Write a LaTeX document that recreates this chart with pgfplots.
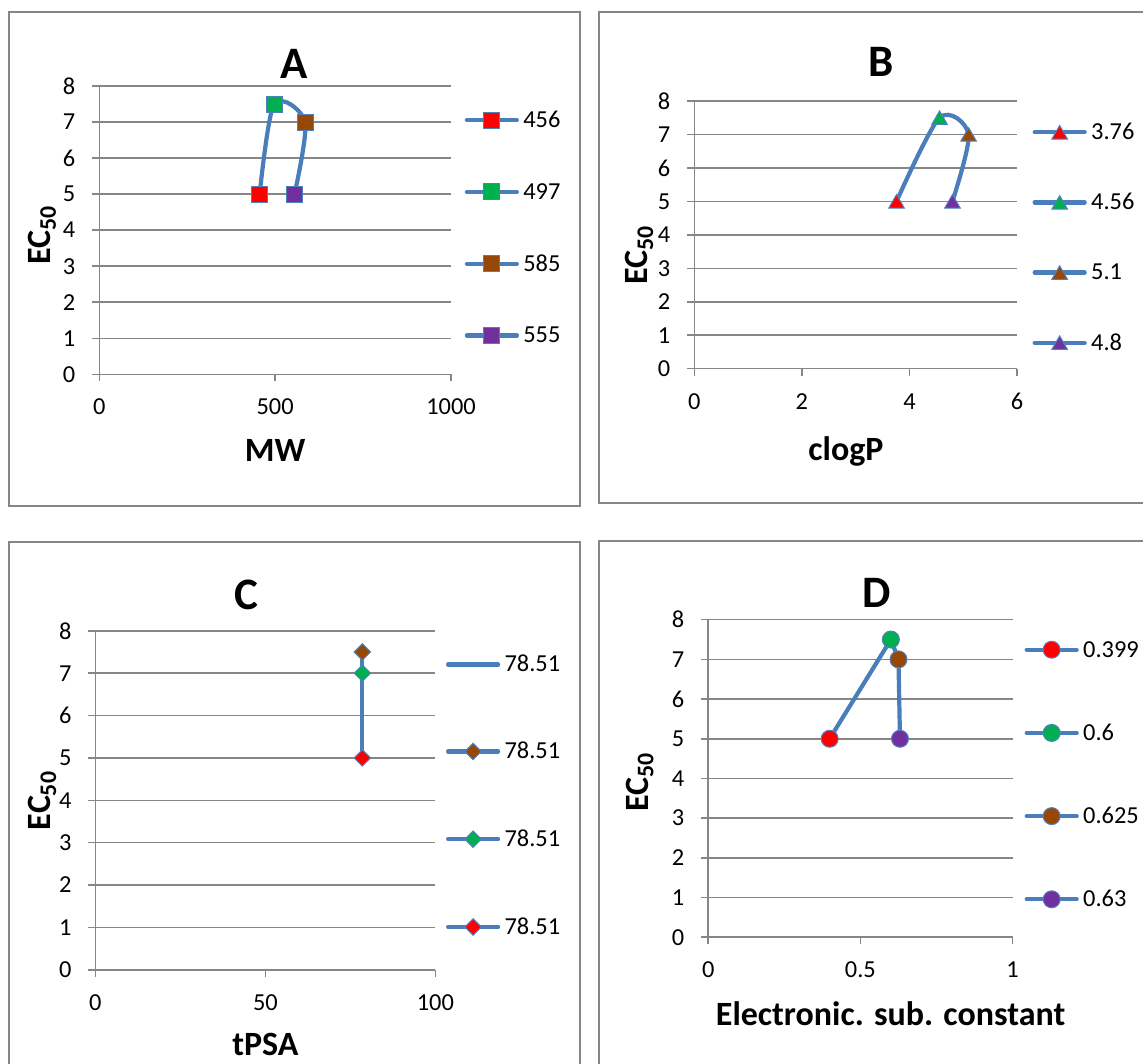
\documentclass[border=0pt]{standalone}
\usepackage{fontspec}
\setmainfont{Carlito}
\usepackage{pgfplots}
\pgfplotsset{compat=1.18}
\definecolor{exblue}{RGB}{74,126,187}
\definecolor{mkborder}{RGB}{79,129,189}
\definecolor{gridgray}{RGB}{134,134,134}
\definecolor{mred}{RGB}{255,0,0}
\definecolor{mgreen}{RGB}{0,176,80}
\definecolor{mbrown}{RGB}{151,71,6}
\definecolor{mpurple}{RGB}{112,48,160}

\pgfplotsset{
  panel/.style={
    scale only axis,
    anchor=south west,
    ymin=0, ymax=8, ytick={0,1,...,8},
    axis x line*=bottom, axis y line*=left,
    axis line style={gridgray, line width=0.75pt, -},
    ymajorgrids, grid style={gridgray, line width=0.75pt},
    tick align=outside, major tick length=3.5pt,
    tick style={gridgray, line width=0.75pt},
    ticklabel style={font=\fontsize{12.2}{14}\selectfont},
    /pgf/number format/assume math mode=true,
    /pgf/number format/1000 sep={},
    scaled ticks=false,
    yticklabel style={anchor=east, inner sep=0pt, xshift=-8.3pt},
    xticklabel style={anchor=center, inner sep=0pt, yshift=-12.8pt},
    title style={font=\fontsize{22.5}{27}\selectfont\bfseries, anchor=center, inner sep=0pt},
    label style={font=\fontsize{17}{20}\selectfont\bfseries, inner sep=0pt},
    ylabel={EC\textsubscript{50}},
    legend style={draw=none, fill=none, inner sep=0pt, anchor=west,
      font=\fontsize{12.2}{14}\selectfont, cells={anchor=west},
      nodes={inner sep=0pt, text height=7.3pt, text depth=0pt}, column sep=2.2pt},
    legend image code/.code={\draw[mark repeat=2, mark phase=2] plot coordinates {(0pt,0pt) (12.5pt,0pt) (25pt,0pt)};},
  },
  curve/.style={exblue, line width=2.1pt, line cap=round, line join=round, no marks, forget plot},
  mk/.style={only marks, forget plot, mark options={draw=mkborder, line width=0.5pt, fill=#1, solid}},
  lg/.style={exblue, line width=2.1pt, line cap=round, mark options={draw=mkborder, line width=0.5pt, fill=#1, solid}},
  sq/.style={mark=square*, mark size=4pt},
  tri/.style={mark=triangle*, mark size=4.5pt, every mark/.append style={yshift=-1.1pt}},
  dia/.style={mark=square*, mark size=2.9pt, every mark/.append style={rotate=45}},
  cir/.style={mark=*, mark size=4.25pt},
}

\begin{document}
\begin{tikzpicture}
\useasboundingbox (0pt,0pt) rectangle (571.5pt,531.5pt);
% panel frames
\draw[gridgray, line width=0.75pt] (4.5pt,278.5pt) rectangle (290pt,525.5pt);
\draw[gridgray, line width=0.75pt] (299.5pt,280pt) rectangle (580pt,525.5pt);
\draw[gridgray, line width=0.75pt] (4.5pt,-5pt) rectangle (290pt,260.5pt);
\draw[gridgray, line width=0.75pt] (299.5pt,-5pt) rectangle (580pt,261pt);

% ---------------- A ----------------
\begin{axis}[panel, at={(49.65pt,344.35pt)}, width=175.85pt, height=144.15pt,
  xmin=0, xmax=1000, xtick={0,500,1000},
  title={A}, title style={at={(axis description cs:0.555,1.036)}},
  xlabel={MW}, xlabel style={at={(axis description cs:0.5,-0.2626)}, anchor=center},
  ylabel style={at={(axis description cs:-0.162,0.483)}, anchor=center},
  legend style={at={(axis description cs:1.038,0.508)}, row sep=27.87pt},
]
\addplot[curve, smooth] coordinates {(456,5) (497,7.5) (585,7) (555,5)};
\addplot[mk=mred, sq] coordinates {(456,5)};
\addplot[mk=mgreen, sq] coordinates {(497,7.5)};
\addplot[mk=mbrown, sq] coordinates {(585,7)};
\addplot[mk=mpurple, sq] coordinates {(555,5)};
\addlegendimage{lg=mred, sq}\addlegendentry{456}
\addlegendimage{lg=mgreen, sq}\addlegendentry{497}
\addlegendimage{lg=mbrown, sq}\addlegendentry{585}
\addlegendimage{lg=mpurple, sq}\addlegendentry{555}
\end{axis}

% ---------------- B ----------------
\begin{axis}[panel, at={(347.15pt,347.15pt)}, width=161.35pt, height=133.85pt,
  xmin=0, xmax=6, xtick={0,2,4,6},
  title={B}, title style={at={(axis description cs:0.58,1.100)}},
  xlabel={clogP}, xlabel style={at={(axis description cs:0.47,-0.31)}, anchor=center},
  ylabel style={at={(axis description cs:-0.17,0.425)}, anchor=center},
  legend style={at={(axis description cs:1.047,0.490)}, row sep=27.77pt},
]
\addplot[curve, smooth] coordinates {(3.76,5) (4.56,7.5) (5.1,7) (4.8,5)};
\addplot[mk=mred, tri] coordinates {(3.76,5)};
\addplot[mk=mgreen, tri] coordinates {(4.56,7.5)};
\addplot[mk=mbrown, tri] coordinates {(5.1,7)};
\addplot[mk=mpurple, tri] coordinates {(4.8,5)};
\addlegendimage{lg=mred, tri}\addlegendentry{3.76}
\addlegendimage{lg=mgreen, tri}\addlegendentry{4.56}
\addlegendimage{lg=mbrown, tri}\addlegendentry{5.1}
\addlegendimage{lg=mpurple, tri}\addlegendentry{4.8}
\end{axis}

% ---------------- C ----------------
\begin{axis}[panel, at={(47.7pt,46.6pt)}, width=170pt, height=169.5pt,
  xmin=0, xmax=100, xtick={0,50,100},
  title={C}, title style={at={(axis description cs:0.443,1.070)}},
  xlabel={tPSA}, xlabel style={at={(axis description cs:0.5,-0.221)}, anchor=center},
  ylabel style={at={(axis description cs:-0.156,0.4994)}, anchor=center},
  legend style={at={(axis description cs:1.03,0.512)}, row sep=35.68pt},
]
\addplot[curve] coordinates {(78.51,5) (78.51,7.5) (78.51,7) (78.51,5)};
\addplot[mk=mbrown, dia] coordinates {(78.51,7.5)};
\addplot[mk=mgreen, dia] coordinates {(78.51,7)};
\addplot[mk=mred, dia] coordinates {(78.51,5)};
\addlegendimage{exblue, line width=2.1pt, line cap=round, no marks}\addlegendentry{78.51}
\addlegendimage{lg=mbrown, dia}\addlegendentry{78.51}
\addlegendimage{lg=mgreen, dia}\addlegendentry{78.51}
\addlegendimage{lg=mred, dia}\addlegendentry{78.51}
\end{axis}

% ---------------- D ----------------
\begin{axis}[panel, at={(354.1pt,62.9pt)}, width=152.2pt, height=158.75pt,
  xmin=0, xmax=1, xtick={0,0.5,1},
  title={D}, title style={at={(axis description cs:0.5545,1.046)}},
  xlabel={Electronic. sub. constant}, xlabel style={at={(axis description cs:0.599,-0.24)}, anchor=center},
  ylabel style={at={(axis description cs:-0.225,0.489)}, anchor=center},
  legend style={at={(axis description cs:1.038,0.5124)}, row sep=33.1pt},
]
\addplot[curve] coordinates {(0.399,5) (0.6,7.5) (0.625,7) (0.63,5)};
\addplot[mk=mred, cir] coordinates {(0.399,5)};
\addplot[mk=mgreen, cir] coordinates {(0.6,7.5)};
\addplot[mk=mbrown, cir] coordinates {(0.625,7)};
\addplot[mk=mpurple, cir] coordinates {(0.63,5)};
\addlegendimage{lg=mred, cir}\addlegendentry{0.399}
\addlegendimage{lg=mgreen, cir}\addlegendentry{0.6}
\addlegendimage{lg=mbrown, cir}\addlegendentry{0.625}
\addlegendimage{lg=mpurple, cir}\addlegendentry{0.63}
\end{axis}
\end{tikzpicture}
\end{document}
